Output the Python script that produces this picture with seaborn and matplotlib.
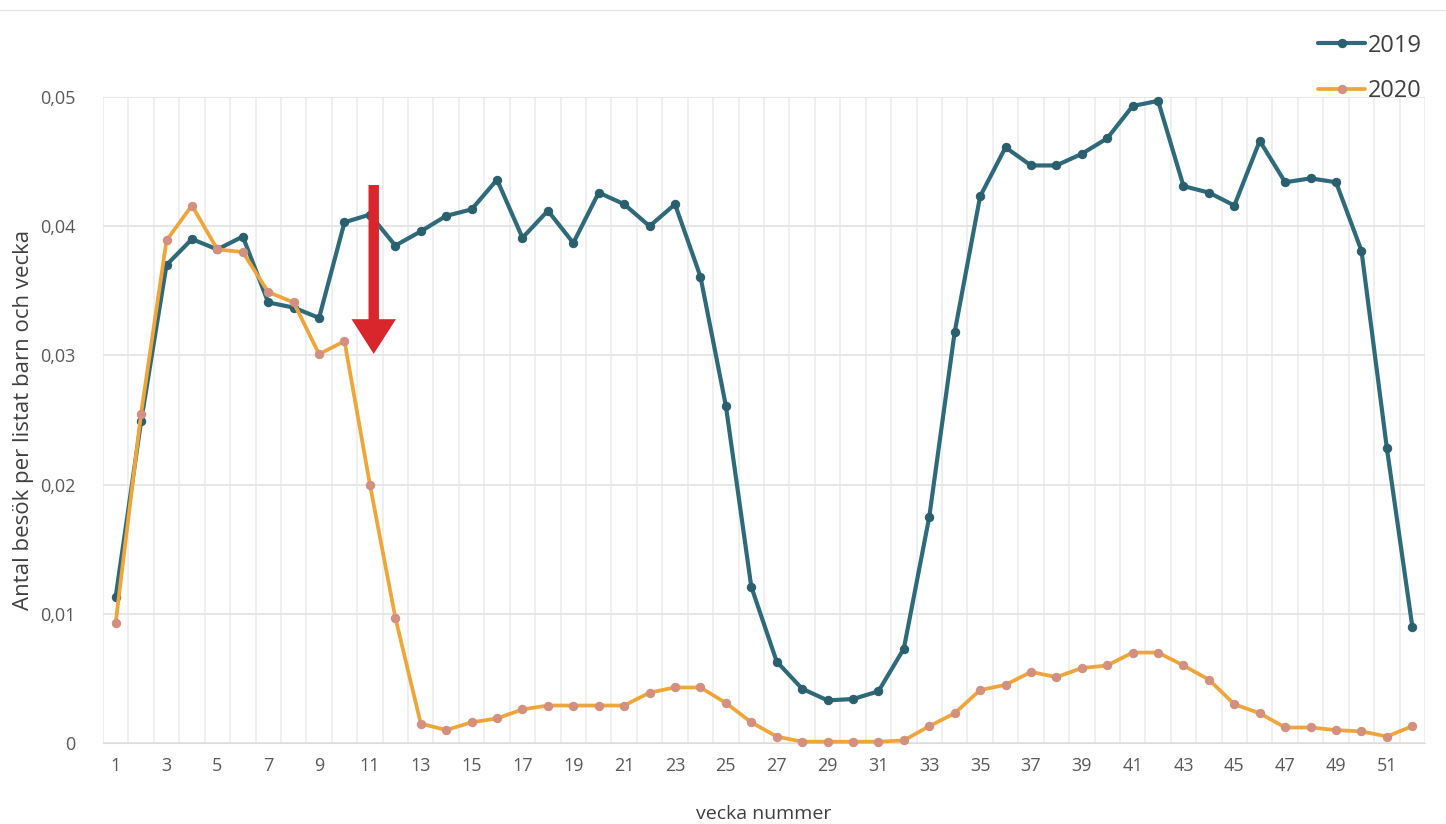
import pandas as pd
import matplotlib.pyplot as plt
import seaborn as sns
from matplotlib.ticker import FuncFormatter

# veckodata
weeks = list(range(1, 53))
besok_2019 = [0.0113, 0.0249, 0.0370, 0.0390, 0.0382, 0.0392, 0.0341, 0.0337, 0.0329, 0.0403,
              0.0409, 0.0385, 0.0396, 0.0408, 0.0413, 0.0436, 0.0391, 0.0412, 0.0387, 0.0426,
              0.0417, 0.0400, 0.0417, 0.0361, 0.0261, 0.0121, 0.0063, 0.0042, 0.0033, 0.0034,
              0.0040, 0.0073, 0.0175, 0.0318, 0.0423, 0.0461, 0.0447, 0.0447, 0.0456, 0.0468,
              0.0493, 0.0497, 0.0431, 0.0426, 0.0416, 0.0466, 0.0434, 0.0437, 0.0434, 0.0381,
              0.0228, 0.0090]
besok_2020 = [0.0093, 0.0255, 0.0389, 0.0416, 0.0382, 0.0380, 0.0349, 0.0341, 0.0301, 0.0311,
              0.0200, 0.0097, 0.0015, 0.0010, 0.0016, 0.0019, 0.0026, 0.0029, 0.0029, 0.0029,
              0.0029, 0.0039, 0.0043, 0.0043, 0.0031, 0.0016, 0.0005, 0.0001, 0.0001, 0.0001,
              0.0001, 0.0002, 0.0013, 0.0023, 0.0041, 0.0045, 0.0055, 0.0051, 0.0058, 0.0060,
              0.0070, 0.0070, 0.0060, 0.0049, 0.0030, 0.0023, 0.0012, 0.0012, 0.0010, 0.0009,
              0.0005, 0.0013]
x_ticks = list(range(1, 53, 2))
y_ticks = [0, 0.01, 0.02, 0.03, 0.04, 0.05]

df = pd.DataFrame({'vecka': weeks * 2,
                   'besok': besok_2019 + besok_2020,
                   'ar': ['2019'] * 52 + ['2020'] * 52})

sns.set_style("white")
plt.rcParams['font.family'] = ['Open Sans', 'DejaVu Sans']

fig = plt.figure(figsize=(14.46, 8.24), dpi=100)
ax = fig.add_axes([0.0712, 0.0983, 0.9143, 0.784])

sns.lineplot(data=df[df['ar'] == '2019'], x='vecka', y='besok', color='#2f6a7a',
             marker='o', markersize=6, markerfacecolor='#2a5f6e', markeredgecolor='#2a5f6e',
             linewidth=3, label='2019', ax=ax, clip_on=False, zorder=3)
sns.lineplot(data=df[df['ar'] == '2020'], x='vecka', y='besok', color='#eea63a',
             marker='o', markersize=6, markerfacecolor='#d3907f', markeredgecolor='#d3907f',
             linewidth=2.7, label='2020', ax=ax, clip_on=False, zorder=3)

ax.set_xlim(0.5, 52.5)
ax.set_ylim(0, 0.05)
ax.set_xticks(x_ticks)
ax.set_yticks(y_ticks)
ax.yaxis.set_major_formatter(FuncFormatter(lambda v, p: '0' if v == 0 else f'{v:.2f}'.replace('.', ',')))

# vertikala linjer mellan veckorna
ax.set_xticks([w + 0.5 for w in range(0, 53)], minor=True)
ax.grid(axis='x', which='minor', color='#ececec', linewidth=1.2)
ax.grid(axis='y', which='major', color='#e3e3e3', linewidth=1.2)
ax.grid(axis='x', which='major', visible=False)
ax.tick_params(axis='both', which='both', length=0, labelsize=13, colors='#595959')
ax.tick_params(axis='x', pad=10)
ax.tick_params(axis='y', pad=20)
for s in ['top', 'right', 'left']:
    ax.spines[s].set_visible(False)
ax.spines['bottom'].set_color('#dcdcdc')

ax.set_xlabel('vecka nummer', fontsize=14, color='#404040', labelpad=22)
ax.set_ylabel('Antal besök per listat barn och vecka', fontsize=16, color='#404040', labelpad=4)

# röd pil
ax.annotate('', xy=(11.15, 0.0299), xytext=(11.15, 0.0434),
            arrowprops=dict(arrowstyle='simple,head_width=3.2,head_length=2.5,tail_width=0.75',
                            color='#d9262c', lw=0), zorder=5)

ax.legend(loc='upper right', bbox_to_anchor=(0.998, 0.985), bbox_transform=fig.transFigure,
          frameon=False, fontsize=17, handlelength=2.0, handletextpad=0.1,
          labelspacing=0.9, labelcolor='#404040')

# tunn ram överst
fig.add_artist(plt.Line2D([0, 1], [0.988, 0.988], transform=fig.transFigure,
                          color='#e6e6e6', linewidth=1))

fig.savefig('out.png', dpi=100)
